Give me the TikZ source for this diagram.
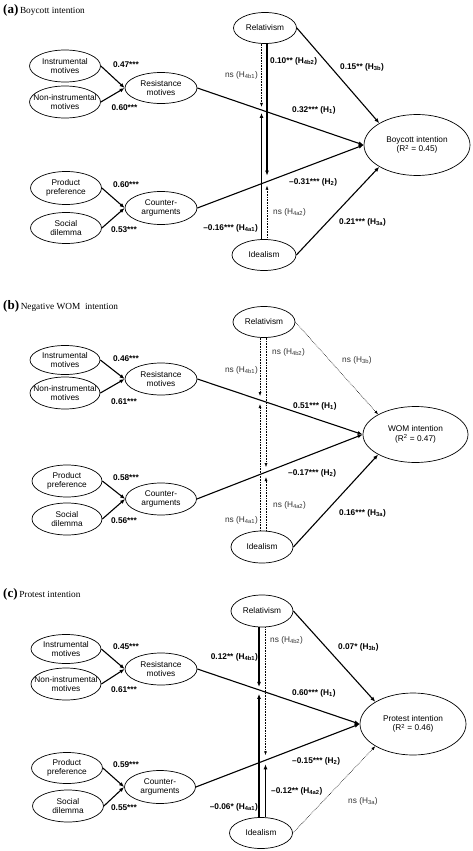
\documentclass[tikz,border=0pt]{standalone}
\usepackage{fontspec}
\setmainfont{Liberation Serif}
\newfontfamily\arialf{Liberation Sans}
\usetikzlibrary{shapes.geometric,arrows.meta,calc}
\newcommand\lbl{\arialf\fontsize{8.3}{9.6}\selectfont}
\newcommand\ellnode[5]{\node[ell,minimum width=#3pt,minimum height=#4pt] (#1) at (#2) {};\node[etxt] (#1t) at (#1.center) {#5};}
\newcommand\hsub[1]{\textsubscript{#1}}
\newcommand\ttlfont[2]{{\fontsize{13}{13}\selectfont\textbf{(#1)}}\,{\fontsize{9.3}{10}\selectfont #2}}
\begin{document}
\begin{tikzpicture}[x=1pt,y=-1pt,
 ell/.style={draw, ellipse, line width=0.7pt, inner sep=0pt},
 etxt/.style={font=\lbl, align=center, inner sep=0pt},
 conn/.style={line width=1.1pt, -{Latex[length=5pt,width=4pt]}},
 vsol/.style={line width=1.4pt, -{Latex[length=5pt,width=4pt]}},
 dots/.style={line width=0.6pt, densely dotted, -{Latex[length=4pt,width=3pt]}},
 coef/.style={font=\lbl\bfseries, inner sep=0pt},
 nsl/.style={font=\lbl, text=black!80, inner sep=0pt},
 ttl/.style={inner sep=0pt, anchor=base west}]
\fill[white] (0,0) rectangle (473,851);
\useasboundingbox (0,0) rectangle (473,851);

% ---------------- panel (a)
\node[ttl] (aT) at (3,14) {\ttlfont{a}{Boycott intention}};
\ellnode{aIM}{65,66}{71}{32}{Instrumental\\motives}
\ellnode{aNI}{65,102}{71}{32}{Non-instrumental\\motives}
\ellnode{aRM}{161,88}{72}{31}{Resistance\\motives}
\ellnode{aPP}{66,188}{71}{33}{Product\\preference}
\ellnode{aSD}{66,228}{71}{31}{Social\\dilemma}
\ellnode{aCA}{161,208}{72}{33}{Counter-\\arguments}
\ellnode{aRel}{265,28}{63}{31}{Relativism}
\ellnode{aIde}{264,255}{64}{31}{Idealism}
\ellnode{aBI}{417,145}{106}{61}{Boycott intention\\(R\textsuperscript{2} = 0.45)}
\draw[conn] (aIM.east) -- (aRM.west);
\draw[conn] (aNI.east) -- (aRM.west);
\draw[conn] (aPP.east) -- (aCA.west);
\draw[conn] (aSD.east) -- (aCA.west);
\draw[conn] (aRM.east) -- (aBI.west);
\draw[conn] (aCA.east) -- (aBI.west);
\draw[conn] (aRel.east) -- (aBI.north west);
\draw[conn] (aIde.east) -- (aBI.south west);
\coordinate (aX1) at (intersection of aRM.east--aBI.west and 261.5,0--261.5,300);
\coordinate (aX2) at (intersection of aCA.east--aBI.west and 267,0--267,300);
\draw[dots] (aRel.south -| aX1) -- ([yshift=3pt]aX1);
\draw[vsol] (aIde.north -| aX1) -- ([yshift=-3pt]aX1);
\draw[vsol] (aRel.south -| aX2) -- ([yshift=6pt]aX2);
\draw[dots] (aIde.north -| aX2) -- ([yshift=-4pt]aX2);
\node[nsl, anchor=east] (aL1) at (258,75) {ns (H\hsub{4b1})};
\node[coef, anchor=west] (aL2) at (270,61) {0.10** (H\hsub{4b2})};
\node[coef, anchor=east] (aL3) at (258,228) {–0.16*** (H\hsub{4a1})};
\node[nsl, anchor=west] (aL4) at (273,212) {ns (H\hsub{4a2})};
\node[coef, anchor=west] (aL5) at (292,110) {0.32*** (H\hsub{1})};
\node[coef, anchor=west] (aL6) at (289,182) {–0.31*** (H\hsub{2})};
\node[coef, anchor=west] (aL7) at (340,67) {0.15** (H\hsub{3b})};
\node[coef, anchor=west] (aL8) at (339,222) {0.21*** (H\hsub{3a})};
\node[coef] (aL9) at (126,65) {0.47***};
\node[coef] (aL10) at (124.5,108) {0.60***};
\node[coef] (aL11) at (126,185) {0.60***};
\node[coef] (aL12) at (124,230) {0.53***};

% ---------------- panel (b)
\node[ttl] (bT) at (3,309) {\ttlfont{b}{Negative WOM\ \ intention}};
\ellnode{bIM}{65,360}{70}{29}{Instrumental\\motives}
\ellnode{bNI}{65,393}{70}{32}{Non-instrumental\\motives}
\ellnode{bRM}{161,379}{72}{32}{Resistance\\motives}
\ellnode{bPP}{67,481}{70}{32}{Product\\preference}
\ellnode{bSD}{67,519}{70}{32}{Social\\dilemma}
\ellnode{bCA}{161,499}{71}{32}{Counter-\\arguments}
\ellnode{bRel}{264,322}{62}{31}{Relativism}
\ellnode{bIde}{262,547}{62}{32}{Idealism}
\ellnode{bWI}{415.5,434.5}{105}{56}{WOM intention\\(R\textsuperscript{2} = 0.47)}
\draw[conn] (bIM.east) -- (bRM.west);
\draw[conn] (bNI.east) -- (bRM.west);
\draw[conn] (bPP.east) -- (bCA.west);
\draw[conn] (bSD.east) -- (bCA.west);
\draw[conn] (bRM.east) -- (bWI.west);
\draw[conn] (bCA.east) -- (bWI.west);
\draw[dots] (bRel.east) -- (bWI.north west);
\draw[conn] (bIde.east) -- (bWI.south west);
\coordinate (bX1) at (intersection of bRM.east--bWI.west and 260,300--260,600);
\coordinate (bX2) at (intersection of bCA.east--bWI.west and 266,300--266,600);
\draw[dots] (bRel.south -| bX1) -- ([yshift=4pt]bX1);
\draw[dots] (bIde.north -| bX1) -- ([yshift=-4pt]bX1);
\draw[dots] (bRel.south -| bX2) -- ([yshift=5pt]bX2);
\draw[dots] (bIde.north -| bX2) -- ([yshift=-5pt]bX2);
\node[nsl, anchor=east] (bL1) at (258,370) {ns (H\hsub{4b1})};
\node[nsl, anchor=west] (bL2) at (272,352) {ns (H\hsub{4b2})};
\node[nsl, anchor=east] (bL3) at (258,520) {ns (H\hsub{4a1})};
\node[nsl, anchor=west] (bL4) at (273,505) {ns (H\hsub{4a2})};
\node[coef, anchor=west] (bL5) at (293,406) {0.51*** (H\hsub{1})};
\node[coef, anchor=west] (bL6) at (288,473) {–0.17*** (H\hsub{2})};
\node[nsl, anchor=west] (bL7) at (342,360) {ns (H\hsub{3b})};
\node[coef, anchor=west] (bL8) at (339,513) {0.16*** (H\hsub{3a})};
\node[coef] (bL9) at (126,359) {0.46***};
\node[coef] (bL10) at (124,402) {0.61***};
\node[coef] (bL11) at (126,478) {0.58***};
\node[coef] (bL12) at (124,521) {0.56***};

% ---------------- panel (c)
\node[ttl] (cT) at (3,597) {\ttlfont{c}{Protest intention}};
\ellnode{cIM}{66,649}{70}{29}{Instrumental\\motives}
\ellnode{cNI}{66,684}{70}{32}{Non-instrumental\\motives}
\ellnode{cRM}{161,669}{72}{32}{Resistance\\motives}
\ellnode{cPP}{67,768}{71}{31}{Product\\preference}
\ellnode{cSD}{68,806}{71}{32}{Social\\dilemma}
\ellnode{cCA}{160,787}{71}{33}{Counter-\\arguments}
\ellnode{cRel}{262,611}{62}{32}{Relativism}
\ellnode{cIde}{261,833}{63}{31}{Idealism}
\ellnode{cPI}{413,724}{106}{62}{Protest intention\\(R\textsuperscript{2} = 0.46)}
\draw[conn] (cIM.east) -- (cRM.west);
\draw[conn] (cNI.east) -- (cRM.west);
\draw[conn] (cPP.east) -- (cCA.west);
\draw[conn] (cSD.east) -- (cCA.west);
\draw[conn] (cRM.east) -- (cPI.west);
\draw[conn] (cCA.east) -- (cPI.west);
\draw[conn] (cRel.east) -- (cPI.north west);
\draw[dots] (cIde.east) -- (cPI.south west);
\coordinate (cX1) at (intersection of cRM.east--cPI.west and 259,600--259,851);
\coordinate (cX2) at (intersection of cCA.east--cPI.west and 265.5,600--265.5,851);
\draw[vsol] (cRel.south -| cX1) -- ([yshift=3pt]cX1);
\draw[vsol] (cIde.north -| cX1) -- ([yshift=-4pt]cX1);
\draw[dots] (cRel.south -| cX2) -- ([yshift=5pt]cX2);
\draw[vsol] (cIde.north -| cX2) -- ([yshift=-4pt]cX2);
\node[coef, anchor=east] (cL1) at (258,657) {0.12** (H\hsub{4b1})};
\node[nsl, anchor=west] (cL2) at (270,640) {ns (H\hsub{4b2})};
\node[coef, anchor=east] (cL3) at (258,807) {–0.06* (H\hsub{4a1})};
\node[coef, anchor=west] (cL4) at (271,791) {–0.12** (H\hsub{4a2})};
\node[coef, anchor=west] (cL5) at (292,693) {0.60*** (H\hsub{1})};
\node[coef, anchor=west] (cL6) at (292,761) {–0.15*** (H\hsub{2})};
\node[coef, anchor=west] (cL7) at (338,647) {0.07* (H\hsub{3b})};
\node[nsl, anchor=west] (cL8) at (348,801) {ns (H\hsub{3a})};
\node[coef] (cL9) at (126,647) {0.45***};
\node[coef] (cL10) at (124,690) {0.61***};
\node[coef] (cL11) at (126,765) {0.59***};
\node[coef] (cL12) at (124,808) {0.55***};
\end{tikzpicture}
\end{document}
